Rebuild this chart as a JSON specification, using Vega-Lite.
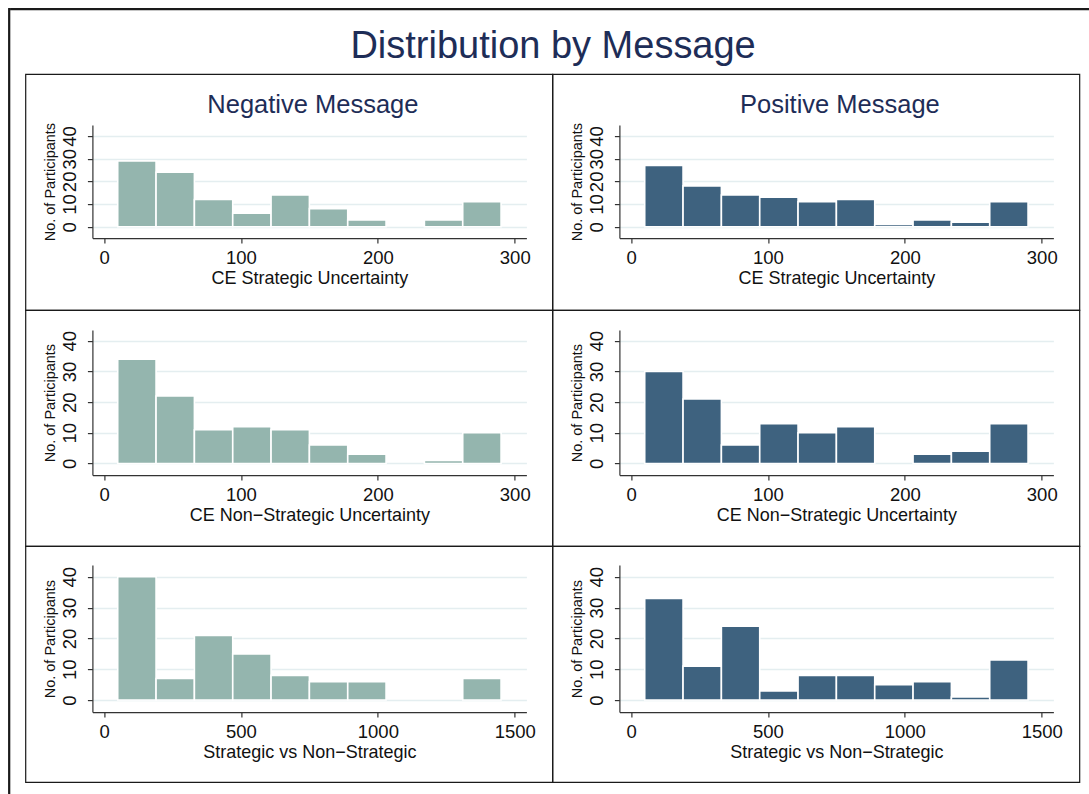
{
  "$schema": "https://vega.github.io/schema/vega-lite/v6.json",
  "background": "white",
  "padding": {"left": 7.4, "top": 7.4, "right": 0, "bottom": 0},
  "data": {
    "values": [
      {"measure": "CE Strategic Uncertainty", "message": "Negative Message", "bin_start": 10, "bin_end": 38, "count": 29},
      {"measure": "CE Strategic Uncertainty", "message": "Negative Message", "bin_start": 38, "bin_end": 66, "count": 24},
      {"measure": "CE Strategic Uncertainty", "message": "Negative Message", "bin_start": 66, "bin_end": 94, "count": 12},
      {"measure": "CE Strategic Uncertainty", "message": "Negative Message", "bin_start": 94, "bin_end": 122, "count": 6},
      {"measure": "CE Strategic Uncertainty", "message": "Negative Message", "bin_start": 122, "bin_end": 150, "count": 14},
      {"measure": "CE Strategic Uncertainty", "message": "Negative Message", "bin_start": 150, "bin_end": 178, "count": 8},
      {"measure": "CE Strategic Uncertainty", "message": "Negative Message", "bin_start": 178, "bin_end": 206, "count": 3},
      {"measure": "CE Strategic Uncertainty", "message": "Negative Message", "bin_start": 234, "bin_end": 262, "count": 3},
      {"measure": "CE Strategic Uncertainty", "message": "Negative Message", "bin_start": 262, "bin_end": 290, "count": 11},

      {"measure": "CE Strategic Uncertainty", "message": "Positive Message", "bin_start": 10, "bin_end": 38, "count": 27},
      {"measure": "CE Strategic Uncertainty", "message": "Positive Message", "bin_start": 38, "bin_end": 66, "count": 18},
      {"measure": "CE Strategic Uncertainty", "message": "Positive Message", "bin_start": 66, "bin_end": 94, "count": 14},
      {"measure": "CE Strategic Uncertainty", "message": "Positive Message", "bin_start": 94, "bin_end": 122, "count": 13},
      {"measure": "CE Strategic Uncertainty", "message": "Positive Message", "bin_start": 122, "bin_end": 150, "count": 11},
      {"measure": "CE Strategic Uncertainty", "message": "Positive Message", "bin_start": 150, "bin_end": 178, "count": 12},
      {"measure": "CE Strategic Uncertainty", "message": "Positive Message", "bin_start": 178, "bin_end": 206, "count": 1},
      {"measure": "CE Strategic Uncertainty", "message": "Positive Message", "bin_start": 206, "bin_end": 234, "count": 3},
      {"measure": "CE Strategic Uncertainty", "message": "Positive Message", "bin_start": 234, "bin_end": 262, "count": 2},
      {"measure": "CE Strategic Uncertainty", "message": "Positive Message", "bin_start": 262, "bin_end": 290, "count": 11},

      {"measure": "CE Non−Strategic Uncertainty", "message": "Negative Message", "bin_start": 10, "bin_end": 38, "count": 34},
      {"measure": "CE Non−Strategic Uncertainty", "message": "Negative Message", "bin_start": 38, "bin_end": 66, "count": 22},
      {"measure": "CE Non−Strategic Uncertainty", "message": "Negative Message", "bin_start": 66, "bin_end": 94, "count": 11},
      {"measure": "CE Non−Strategic Uncertainty", "message": "Negative Message", "bin_start": 94, "bin_end": 122, "count": 12},
      {"measure": "CE Non−Strategic Uncertainty", "message": "Negative Message", "bin_start": 122, "bin_end": 150, "count": 11},
      {"measure": "CE Non−Strategic Uncertainty", "message": "Negative Message", "bin_start": 150, "bin_end": 178, "count": 6},
      {"measure": "CE Non−Strategic Uncertainty", "message": "Negative Message", "bin_start": 178, "bin_end": 206, "count": 3},
      {"measure": "CE Non−Strategic Uncertainty", "message": "Negative Message", "bin_start": 234, "bin_end": 262, "count": 1},
      {"measure": "CE Non−Strategic Uncertainty", "message": "Negative Message", "bin_start": 262, "bin_end": 290, "count": 10},

      {"measure": "CE Non−Strategic Uncertainty", "message": "Positive Message", "bin_start": 10, "bin_end": 38, "count": 30},
      {"measure": "CE Non−Strategic Uncertainty", "message": "Positive Message", "bin_start": 38, "bin_end": 66, "count": 21},
      {"measure": "CE Non−Strategic Uncertainty", "message": "Positive Message", "bin_start": 66, "bin_end": 94, "count": 6},
      {"measure": "CE Non−Strategic Uncertainty", "message": "Positive Message", "bin_start": 94, "bin_end": 122, "count": 13},
      {"measure": "CE Non−Strategic Uncertainty", "message": "Positive Message", "bin_start": 122, "bin_end": 150, "count": 10},
      {"measure": "CE Non−Strategic Uncertainty", "message": "Positive Message", "bin_start": 150, "bin_end": 178, "count": 12},
      {"measure": "CE Non−Strategic Uncertainty", "message": "Positive Message", "bin_start": 206, "bin_end": 234, "count": 3},
      {"measure": "CE Non−Strategic Uncertainty", "message": "Positive Message", "bin_start": 234, "bin_end": 262, "count": 4},
      {"measure": "CE Non−Strategic Uncertainty", "message": "Positive Message", "bin_start": 262, "bin_end": 290, "count": 13},

      {"measure": "Strategic vs Non−Strategic", "message": "Negative Message", "bin_start": 50, "bin_end": 190, "count": 40},
      {"measure": "Strategic vs Non−Strategic", "message": "Negative Message", "bin_start": 190, "bin_end": 330, "count": 7},
      {"measure": "Strategic vs Non−Strategic", "message": "Negative Message", "bin_start": 330, "bin_end": 470, "count": 21},
      {"measure": "Strategic vs Non−Strategic", "message": "Negative Message", "bin_start": 470, "bin_end": 610, "count": 15},
      {"measure": "Strategic vs Non−Strategic", "message": "Negative Message", "bin_start": 610, "bin_end": 750, "count": 8},
      {"measure": "Strategic vs Non−Strategic", "message": "Negative Message", "bin_start": 750, "bin_end": 890, "count": 6},
      {"measure": "Strategic vs Non−Strategic", "message": "Negative Message", "bin_start": 890, "bin_end": 1030, "count": 6},
      {"measure": "Strategic vs Non−Strategic", "message": "Negative Message", "bin_start": 1310, "bin_end": 1450, "count": 7},

      {"measure": "Strategic vs Non−Strategic", "message": "Positive Message", "bin_start": 50, "bin_end": 190, "count": 33},
      {"measure": "Strategic vs Non−Strategic", "message": "Positive Message", "bin_start": 190, "bin_end": 330, "count": 11},
      {"measure": "Strategic vs Non−Strategic", "message": "Positive Message", "bin_start": 330, "bin_end": 470, "count": 24},
      {"measure": "Strategic vs Non−Strategic", "message": "Positive Message", "bin_start": 470, "bin_end": 610, "count": 3},
      {"measure": "Strategic vs Non−Strategic", "message": "Positive Message", "bin_start": 610, "bin_end": 750, "count": 8},
      {"measure": "Strategic vs Non−Strategic", "message": "Positive Message", "bin_start": 750, "bin_end": 890, "count": 8},
      {"measure": "Strategic vs Non−Strategic", "message": "Positive Message", "bin_start": 890, "bin_end": 1030, "count": 5},
      {"measure": "Strategic vs Non−Strategic", "message": "Positive Message", "bin_start": 1030, "bin_end": 1170, "count": 6},
      {"measure": "Strategic vs Non−Strategic", "message": "Positive Message", "bin_start": 1170, "bin_end": 1310, "count": 1},
      {"measure": "Strategic vs Non−Strategic", "message": "Positive Message", "bin_start": 1310, "bin_end": 1450, "count": 13}
    ]
  },
  "spacing": -2,
  "hconcat": [
    {
      "name": "frame_left",
      "width": 1, "height": 785,
      "view": {"stroke": "#1a1a1a", "strokeWidth": 1.2, "fill": "#1a1a1a"},
      "data": {"values": [{}]},
      "mark": {"type": "rect", "opacity": 0},
      "encoding": {}
    },
    {
      "spacing": 5.7,
      "vconcat": [
        {
          "name": "frame_top",
          "width": 1081, "height": 1,
          "view": {"stroke": "#1a1a1a", "strokeWidth": 1.2, "fill": "#1a1a1a"},
          "data": {"values": [{}]},
          "mark": {"type": "rect", "opacity": 0},
          "encoding": {},
          "title": {
            "text": "Distribution by Message",
            "orient": "bottom",
            "fontSize": 38,
            "fontWeight": "normal",
            "color": "#1e2d57",
            "anchor": "start",
            "frame": "group",
            "baseline": "top",
            "dx": 340,
            "offset": 19
          }
        },
        {
          "spacing": 0,
          "hconcat": [
            {
              "name": "gutter",
              "width": 14, "height": 1,
              "view": {"stroke": null},
              "data": {"values": [{}]},
              "mark": {"type": "rect", "opacity": 0},
              "encoding": {}
            },
            {
              "columns": 2,
              "spacing": 0,
              "bounds": "flush",
              "concat": [
                {
                  "width": 527, "height": 236,
                  "title": {"text": "Negative Message", "fontSize": 25.5, "fontWeight": "normal", "color": "#1e2d57", "anchor": "middle", "frame": "group", "baseline": "alphabetic", "offset": -64.5, "dx": 24},
                  "transform": [{"filter": {"and": [{"field": "measure", "equal": "CE Strategic Uncertainty"}, {"field": "message", "equal": "Negative Message"}]}}],
                  "mark": {"type": "rect", "color": "#94b5ae", "stroke": "white", "strokeWidth": 1.6},
                  "encoding": {
                    "x": {"field": "bin_start", "type": "quantitative", "scale": {"domain": [-8.5, 308.5], "range": [67, 501], "nice": false, "zero": false}, "axis": {"title": "CE Strategic Uncertainty", "values": [0, 100, 200, 300], "offset": -72}},
                    "x2": {"field": "bin_end"},
                    "y": {"field": "count", "type": "quantitative", "scale": {"domain": [-5, 44.8], "range": [164, 51], "nice": false, "zero": false}, "axis": {"title": "No. of Participants", "values": [0, 10, 20, 30, 40], "offset": -67}},
                    "y2": {"datum": 0}
                  }
                },
                {
                  "width": 527, "height": 236,
                  "title": {"text": "Positive Message", "fontSize": 25.5, "fontWeight": "normal", "color": "#1e2d57", "anchor": "middle", "frame": "group", "baseline": "alphabetic", "offset": -64.5, "dx": 24},
                  "transform": [{"filter": {"and": [{"field": "measure", "equal": "CE Strategic Uncertainty"}, {"field": "message", "equal": "Positive Message"}]}}],
                  "mark": {"type": "rect", "color": "#3e627f", "stroke": "white", "strokeWidth": 1.6},
                  "encoding": {
                    "x": {"field": "bin_start", "type": "quantitative", "scale": {"domain": [-8.5, 308.5], "range": [67, 501], "nice": false, "zero": false}, "axis": {"title": "CE Strategic Uncertainty", "values": [0, 100, 200, 300], "offset": -72}},
                    "x2": {"field": "bin_end"},
                    "y": {"field": "count", "type": "quantitative", "scale": {"domain": [-5, 44.8], "range": [164, 51], "nice": false, "zero": false}, "axis": {"title": "No. of Participants", "values": [0, 10, 20, 30, 40], "offset": -67}},
                    "y2": {"datum": 0}
                  }
                },
                {
                  "width": 527, "height": 236,
                  "transform": [{"filter": {"and": [{"field": "measure", "equal": "CE Non−Strategic Uncertainty"}, {"field": "message", "equal": "Negative Message"}]}}],
                  "mark": {"type": "rect", "color": "#94b5ae", "stroke": "white", "strokeWidth": 1.6},
                  "encoding": {
                    "x": {"field": "bin_start", "type": "quantitative", "scale": {"domain": [-8.5, 308.5], "range": [67, 501], "nice": false, "zero": false}, "axis": {"title": "CE Non−Strategic Uncertainty", "values": [0, 100, 200, 300], "offset": -71}},
                    "x2": {"field": "bin_end"},
                    "y": {"field": "count", "type": "quantitative", "scale": {"domain": [-3.8, 43.5], "range": [165, 20], "nice": false, "zero": false}, "axis": {"title": "No. of Participants", "values": [0, 10, 20, 30, 40], "offset": -67}},
                    "y2": {"datum": 0}
                  }
                },
                {
                  "width": 527, "height": 236,
                  "transform": [{"filter": {"and": [{"field": "measure", "equal": "CE Non−Strategic Uncertainty"}, {"field": "message", "equal": "Positive Message"}]}}],
                  "mark": {"type": "rect", "color": "#3e627f", "stroke": "white", "strokeWidth": 1.6},
                  "encoding": {
                    "x": {"field": "bin_start", "type": "quantitative", "scale": {"domain": [-8.5, 308.5], "range": [67, 501], "nice": false, "zero": false}, "axis": {"title": "CE Non−Strategic Uncertainty", "values": [0, 100, 200, 300], "offset": -71}},
                    "x2": {"field": "bin_end"},
                    "y": {"field": "count", "type": "quantitative", "scale": {"domain": [-3.8, 43.5], "range": [165, 20], "nice": false, "zero": false}, "axis": {"title": "No. of Participants", "values": [0, 10, 20, 30, 40], "offset": -67}},
                    "y2": {"datum": 0}
                  }
                },
                {
                  "width": 527, "height": 236,
                  "transform": [{"filter": {"and": [{"field": "measure", "equal": "Strategic vs Non−Strategic"}, {"field": "message", "equal": "Negative Message"}]}}],
                  "mark": {"type": "rect", "color": "#94b5ae", "stroke": "white", "strokeWidth": 1.6},
                  "encoding": {
                    "x": {"field": "bin_start", "type": "quantitative", "scale": {"domain": [-42.5, 1542.5], "range": [67, 501], "nice": false, "zero": false}, "axis": {"title": "Strategic vs Non−Strategic", "values": [0, 500, 1000, 1500], "format": "d", "offset": -70}},
                    "x2": {"field": "bin_end"},
                    "y": {"field": "count", "type": "quantitative", "scale": {"domain": [-3.9, 43.8], "range": [166, 19], "nice": false, "zero": false}, "axis": {"title": "No. of Participants", "values": [0, 10, 20, 30, 40], "offset": -67}},
                    "y2": {"datum": 0}
                  }
                },
                {
                  "width": 527, "height": 236,
                  "transform": [{"filter": {"and": [{"field": "measure", "equal": "Strategic vs Non−Strategic"}, {"field": "message", "equal": "Positive Message"}]}}],
                  "mark": {"type": "rect", "color": "#3e627f", "stroke": "white", "strokeWidth": 1.6},
                  "encoding": {
                    "x": {"field": "bin_start", "type": "quantitative", "scale": {"domain": [-42.5, 1542.5], "range": [67, 501], "nice": false, "zero": false}, "axis": {"title": "Strategic vs Non−Strategic", "values": [0, 500, 1000, 1500], "format": "d", "offset": -70}},
                    "x2": {"field": "bin_end"},
                    "y": {"field": "count", "type": "quantitative", "scale": {"domain": [-3.9, 43.8], "range": [166, 19], "nice": false, "zero": false}, "axis": {"title": "No. of Participants", "values": [0, 10, 20, 30, 40], "offset": -67}},
                    "y2": {"datum": 0}
                  }
                }
              ]
            }
          ]
        }
      ]
    }
  ],
  "config": {
    "font": "Liberation Sans",
    "view": {"stroke": "#1a1a1a", "strokeWidth": 1.2},
    "title": {"font": "Liberation Sans"},
    "axisX": {
      "grid": false, "tickSize": 5, "labelPadding": 5, "labelFontSize": 18.5, "titleFontSize": 18, "titlePadding": 3,
      "domainColor": "#333333", "tickColor": "#333333", "labelColor": "#111111", "titleColor": "#111111",
      "titleFontWeight": "normal", "labelFlush": false, "labelOverlap": false, "domainWidth": 1.2, "tickWidth": 1.2
    },
    "axisY": {
      "grid": true, "gridColor": "#e4eef0", "gridWidth": 1.5,
      "labelAngle": 270, "labelAlign": "center", "labelBaseline": "bottom",
      "tickSize": 5, "labelPadding": 7.5, "labelFontSize": 18.5, "titleFontSize": 14.5, "titlePadding": 3,
      "domainColor": "#333333", "tickColor": "#333333", "labelColor": "#111111", "titleColor": "#111111",
      "titleFontWeight": "normal", "labelFlush": false, "labelOverlap": false, "domainWidth": 1.2, "tickWidth": 1.2
    }
  }
}
